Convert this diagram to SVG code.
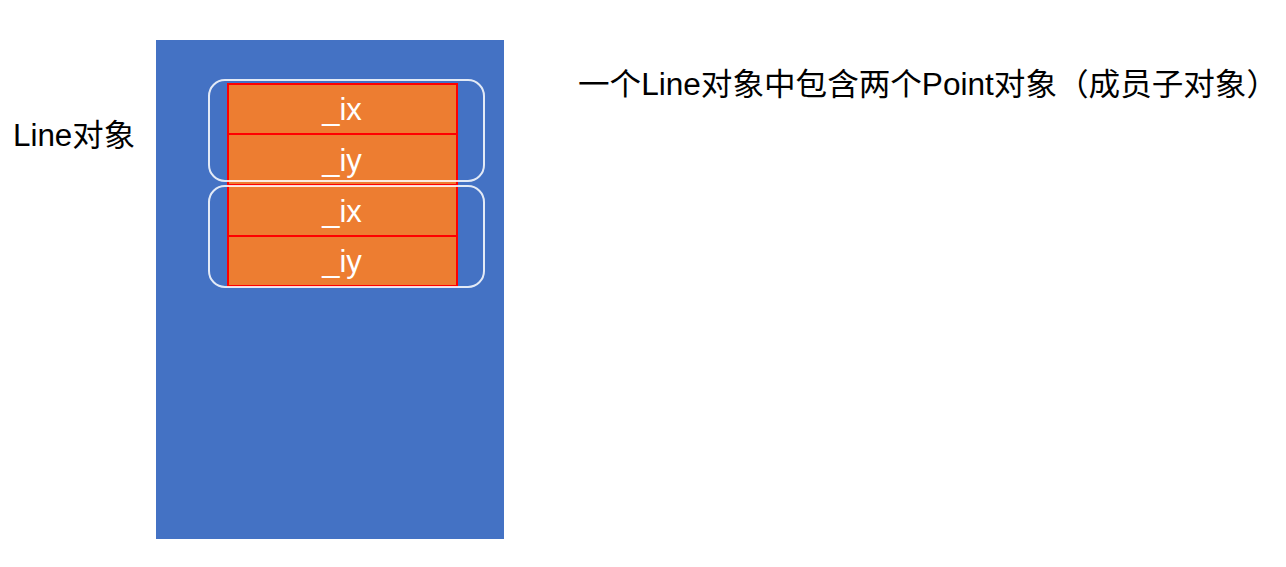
<svg xmlns="http://www.w3.org/2000/svg" width="1286" height="567" viewBox="0 0 1286 567">
<style>
.t{font-family:"Liberation Sans","Noto Sans CJK SC",sans-serif;font-size:31px}
.f{fill:#ed7d31;stroke:#ff0000;stroke-width:2}
.w{fill:#ffffff}
.g{fill:none;stroke:#ffffff;stroke-width:2;opacity:0.85}
</style>
<rect width="1286" height="567" fill="#ffffff"/>
<g id="line-object">
<rect x="156" y="40" width="348" height="499" fill="#4472c4"/>
</g>
<g id="fields">
<rect class="f" x="228" y="84" width="229" height="50"/>
<rect class="f" x="228" y="134" width="229" height="51"/>
<rect class="f" x="228" y="185" width="229" height="51"/>
<rect class="f" x="228" y="236" width="229" height="50"/>
<text class="t w" x="342" y="120" text-anchor="middle">_ix</text>
<text class="t w" x="342" y="171" text-anchor="middle">_iy</text>
<text class="t w" x="342" y="222" text-anchor="middle">_ix</text>
<text class="t w" x="342" y="272" text-anchor="middle">_iy</text>
</g>
<g id="point1"><rect class="g" x="209" y="80" width="275" height="101" rx="16"/></g>
<g id="point2"><rect class="g" x="209" y="186" width="275" height="101" rx="16"/></g>
<g id="connectors"></g>
<text class="t" x="13" y="146" fill="#000" textLength="122" lengthAdjust="spacingAndGlyphs">Line对象</text>
<text class="t" x="578" y="95" fill="#000" textLength="700" lengthAdjust="spacingAndGlyphs">一个Line对象中包含两个Point对象（成员子对象）</text>
</svg>
